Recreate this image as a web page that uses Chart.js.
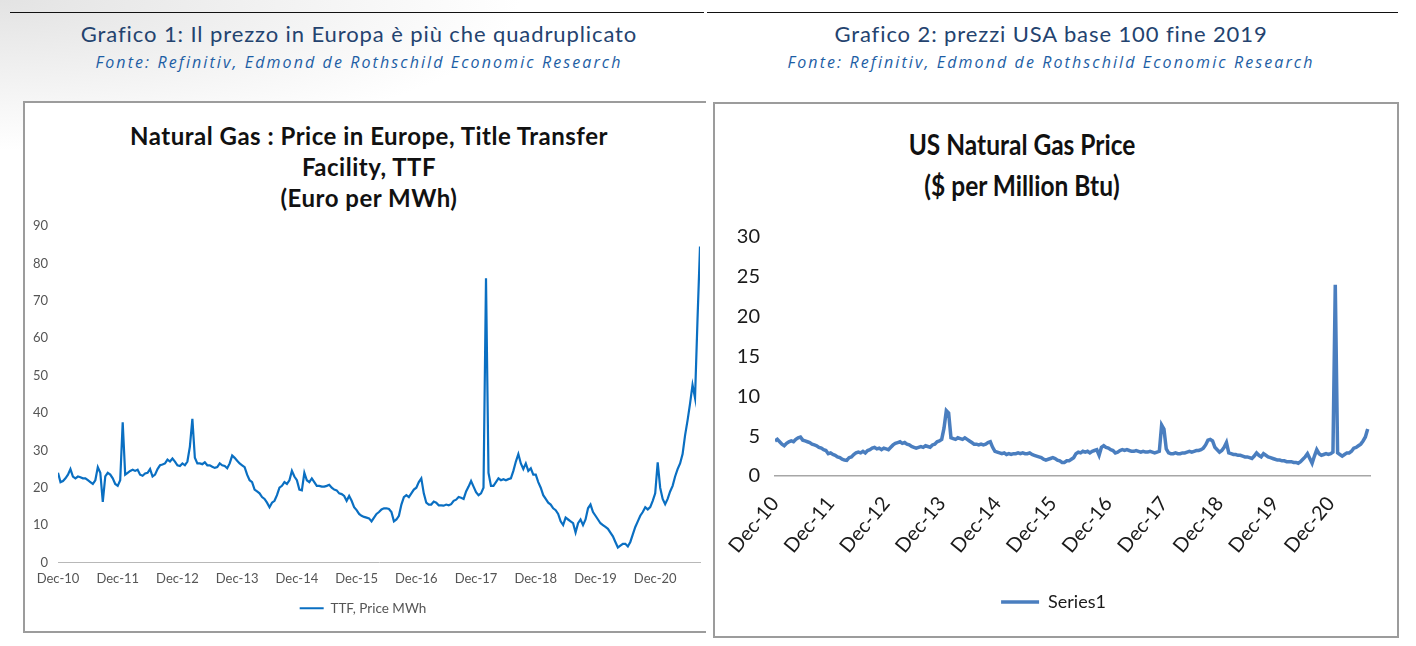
<!DOCTYPE html>
<html lang="it">
<head>
<meta charset="utf-8">
<title>Gas naturale: prezzi in Europa e negli USA</title>
<script src="https://cdn.jsdelivr.net/npm/chart.js"></script>
<style>
    html, body { margin: 0; padding: 0; }
    body {
        width: 1416px; height: 646px; position: relative; overflow: hidden;
        background: radial-gradient(ellipse 520px 150px at 0 0, #e3e3e3, #ffffff);
        font-family: Lato, sans-serif;
    }
    .rule { position: absolute; top: 12px; height: 1px; background: #111; }
    .head { position: absolute; top: 21px; text-align: center; color: #24436f; font-size: 22px; font-weight: 400; letter-spacing: 0.9px; line-height: 26px; white-space: nowrap; }
    .src { position: absolute; top: 52px; text-align: center; color: #1d5ea5; font-family: "Open Sans", sans-serif; font-style: italic; font-size: 16px; letter-spacing: 2.1px; line-height: 20px; white-space: nowrap; }
    .panel { position: absolute; background: #fff; box-sizing: border-box; }
    #p1 { left: 23px; top: 101px; width: 683px; height: 532px; border: 2px solid #9c9c9c; border-right: none; }
    #p2 { left: 713px; top: 102px; width: 686px; height: 536px; border: 2px solid #9c9c9c; }
    .ctitle { position: absolute; text-align: center; font-weight: bold; color: #111; white-space: nowrap; }
    #t1 { left: 24px; width: 690px; top: 120px; font-size: 24px; letter-spacing: 0.5px; line-height: 31px; }
    #t2 { left: 716px; width: 612px; top: 124px; font-size: 28px; line-height: 41px; transform: scaleX(0.875); }
    .wrap { position: absolute; }
    #w1 { left: 26px; top: 205px; width: 678px; height: 425px; }
    #w2 { left: 706px; top: 210px; width: 690px; height: 425px; }
</style>
</head>
<body>
    <div class="rule" style="left:10px; width:694px;"></div>
    <div class="rule" style="left:707px; width:691px;"></div>

    <div class="head" style="left:0; width:718px;">Grafico 1: Il prezzo in Europa è più che quadruplicato</div>
    <div class="src" style="left:0; width:718px;">Fonte: Refinitiv, Edmond de Rothschild Economic Research</div>
    <div class="head" style="left:702px; width:698px;">Grafico 2: prezzi USA base 100 fine 2019</div>
    <div class="src" style="left:702px; width:698px;">Fonte: Refinitiv, Edmond de Rothschild Economic Research</div>

    <div class="panel" id="p1"></div>
    <div class="panel" id="p2"></div>

    <div class="ctitle" id="t1">Natural Gas : Price in Europe, Title Transfer<br>Facility, TTF<br>(Euro per MWh)</div>
    <div class="ctitle" id="t2">US Natural Gas Price<br>($ per Million Btu)</div>

    <div class="wrap" id="w1"><canvas id="ttfChart"></canvas></div>
    <div class="wrap" id="w2"><canvas id="usChart"></canvas></div>

<script>
    // tick positions in half-months since Dec-10, and their labels
    var xTickPos = [0, 24, 48, 72, 96, 120, 144, 168, 192, 216, 240];
    var xTickLabels = ['Dec-10', 'Dec-11', 'Dec-12', 'Dec-13', 'Dec-14', 'Dec-15',
                       'Dec-16', 'Dec-17', 'Dec-18', 'Dec-19', 'Dec-20'];

    // TTF, Euro per MWh, one reading per half month from Dec-10
    var ttfPrice = [
        24, 21.5, 21.8, 22.5, 23.5, 25, 23, 22.5, 23, 22.8, 22.5, 22.5, 22, 21.5, 21, 22, 25.5, 24, 16.2, 23, 24, 23.5, 22.5, 21,
        20.5, 22, 37.5, 23.5, 24, 24.5, 24.8, 24.5, 24.8, 23.5, 23.2, 23.8, 24, 25, 23, 23.5, 25, 26, 26.2, 26.5, 27.5, 27, 27.8, 27,
        26, 25.8, 26.5, 26, 27, 31, 38.4, 28, 26.5, 26.5, 26.3, 26.8, 26, 26, 25.6, 25.3, 25.5, 26.5, 26, 25.8, 25.2, 26.5, 28.6, 28,
        27.2, 26.5, 26, 25.5, 23.5, 22, 21.5, 19.5, 19, 18.5, 17.5, 17, 16, 14.8, 16, 16.5, 18, 20, 20.5, 21.5, 21, 22, 24.5, 23,
        22, 19.5, 19.3, 24, 22, 21.5, 22.5, 21.5, 20.5, 20.5, 20.3, 20.3, 20.5, 20.8, 20, 19.5, 19.3, 18.5, 18.3, 17.8, 16.5, 17.8, 16.5, 14.8,
        14, 13, 12.5, 12.2, 12, 11.8, 11, 12, 13, 13.5, 14.2, 14.5, 14.5, 14.3, 13.5, 11, 11.5, 12.5, 15.5, 17.5, 18, 17.5, 18.5, 19.5,
        20, 21.5, 22.5, 18.5, 16, 15.5, 15.5, 16.3, 16, 15.3, 15.3, 15.2, 15.5, 15.3, 15.6, 16.5, 16.8, 17.5, 17.3, 17, 19, 20.3, 21.8, 20.3,
        18.8, 18, 18.5, 20, 76, 24, 20.5, 20.5, 21.5, 22.5, 22, 22.3, 22, 22.3, 22.5, 24.5, 27, 29, 26.5, 25, 26.5, 24.5, 25.2, 23.5,
        23.5, 21.5, 20, 18, 17, 16, 15.5, 14.5, 14, 13, 11, 10, 12, 11.5, 11, 10.5, 8, 10.5, 11.5, 10, 11.5, 14.5, 15.5, 13.5,
        12.5, 11.5, 10.5, 10, 9.5, 9, 8, 7, 5.5, 4, 4.5, 5, 5, 4.3, 5.5, 7.5, 9.5, 11, 12.5, 13.5, 14.8, 14.2, 14.8, 16.5,
        18.5, 26.8, 20, 17, 15.6, 17, 19, 20.5, 23, 25, 26.5, 29, 34, 38, 42.5, 47.5, 44, 65, 84.5
    ];

    // US natural gas, $ per million Btu, one reading per half month from Dec-10
    var usPrice = [
        4.4, 4.6, 4.3, 4.0, 3.8, 4.1, 4.3, 4.4, 4.3, 4.6, 4.8, 4.9, 4.5, 4.4, 4.3, 4.2, 4.0, 3.9, 3.8, 3.6, 3.5, 3.3, 3.2, 2.8,
        2.9, 2.7, 2.6, 2.4, 2.3, 2.1, 2.0, 1.95, 2.3, 2.4, 2.7, 2.9, 3.0, 2.9, 3.1, 2.9, 3.2, 3.3, 3.5, 3.6, 3.4, 3.5, 3.3, 3.5,
        3.4, 3.3, 3.6, 3.9, 4.1, 4.2, 4.3, 4.1, 4.2, 4.0, 3.9, 3.7, 3.6, 3.5, 3.6, 3.7, 3.6, 3.8, 3.7, 3.6, 3.9, 4.0, 4.3, 4.4,
        4.6, 6.0, 8.2, 7.9, 4.8, 4.7, 4.6, 4.8, 4.7, 4.6, 4.8, 4.6, 4.4, 4.2, 4.0, 4.0, 3.9, 4.0, 3.9, 4.0, 4.2, 4.3, 3.6, 3.1,
        3.0, 2.9, 2.8, 2.9, 2.7, 2.8, 2.7, 2.8, 2.8, 2.9, 2.8, 2.9, 2.8, 2.8, 2.9, 2.7, 2.6, 2.5, 2.4, 2.3, 2.1, 2.0, 2.1, 2.2,
        2.3, 2.2, 2.0, 1.9, 1.7, 1.7, 1.9, 1.9, 2.1, 2.3, 2.8, 3.0, 2.9, 3.1, 3.0, 3.1, 2.9, 3.1, 3.2, 3.3, 2.6, 3.6, 3.8, 3.6,
        3.5, 3.3, 3.2, 2.9, 3.0, 3.2, 3.3, 3.2, 3.3, 3.2, 3.1, 3.1, 3.2, 3.1, 3.0, 3.1, 3.0, 3.0, 3.1, 3.0, 2.9, 3.0, 3.1, 6.4,
        5.9, 3.4, 2.9, 2.8, 2.8, 2.9, 2.8, 2.8, 2.9, 2.9, 3.0, 3.1, 3.0, 3.1, 3.2, 3.2, 3.3, 3.5, 3.9, 4.5, 4.6, 4.4, 3.6, 3.3,
        3.0, 3.2, 3.6, 4.2, 2.9, 2.8, 2.7, 2.7, 2.6, 2.6, 2.5, 2.4, 2.4, 2.3, 2.2, 2.5, 2.9, 2.6, 2.4, 2.8, 2.6, 2.4, 2.3, 2.2,
        2.1, 2.0, 2.0, 1.9, 1.9, 1.8, 1.8, 1.8, 1.7, 1.7, 1.6, 1.8, 2.1, 2.4, 2.8, 2.2, 1.6, 2.5, 3.3, 2.8, 2.6, 2.7, 2.8, 2.7,
        2.8, 3.0, 24.0, 2.9, 2.7, 2.5, 2.7, 2.9, 2.9, 3.1, 3.5, 3.6, 3.8, 4.0, 4.4, 4.9, 5.9
    ];

    function toPoints(values) {
        return values.map(function (v, i) { return { x: i, y: v }; });
    }

    function setTicks(axis) {
        axis.ticks = xTickPos.map(function (v) { return { value: v }; });
    }

    function tickLabel(value) {
        return xTickLabels[xTickPos.indexOf(value)];
    }

    // Grafico 1: TTF
    new Chart(document.getElementById('ttfChart'), {
        type: 'line',
        data: {
            datasets: [{
                label: 'TTF, Price MWh',
                data: toPoints(ttfPrice),
                borderColor: '#0a6fc2',
                backgroundColor: '#0a6fc2',
                borderWidth: 2.2,
                pointRadius: 0,
                tension: 0,
                fill: false
            }]
        },
        options: {
            responsive: true,
            maintainAspectRatio: false,
            animation: false,
            layout: { padding: { left: 0, right: 4, top: 21, bottom: 5 } },
            scales: {
                x: {
                    type: 'linear', min: 0, max: 258,
                    afterBuildTicks: setTicks,
                    afterFit: function (scale) { scale.height = 26; },
                    grid: { display: false, drawTicks: false },
                    border: { color: '#b8b8b8', width: 1 },
                    ticks: { callback: tickLabel, maxRotation: 0, autoSkip: false, padding: 9,
                             color: '#555', font: { family: 'Lato', size: 13 } }
                },
                y: {
                    min: 0, max: 90,
                    afterFit: function (scale) { scale.width = 32; },
                    grid: { display: false, drawTicks: false },
                    border: { display: false },
                    ticks: { stepSize: 10, padding: 10, color: '#555', font: { family: 'Lato', size: 13 } }
                }
            },
            plugins: {
                legend: {
                    position: 'bottom',
                    labels: { usePointStyle: true, pointStyle: 'line', pointStyleWidth: 24, padding: 13,
                              color: '#555', font: { family: 'Lato', size: 13.5 } }
                },
                tooltip: { enabled: false }
            }
        }
    });

    // Grafico 2: USA
    new Chart(document.getElementById('usChart'), {
        type: 'line',
        data: {
            datasets: [{
                label: 'Series1',
                data: toPoints(usPrice),
                borderColor: '#4a7ebf',
                backgroundColor: '#4a7ebf',
                borderWidth: 3.5,
                pointRadius: 0,
                tension: 0,
                fill: false
            }]
        },
        options: {
            responsive: true,
            maintainAspectRatio: false,
            animation: false,
            layout: { padding: { left: 31, right: 26, top: 0, bottom: 14 } },
            scales: {
                x: {
                    type: 'linear', min: 0, max: 257,
                    afterBuildTicks: setTicks,
                    afterFit: function (scale) { scale.height = 105; },
                    grid: { display: false, drawTicks: false },
                    border: { color: '#a6a6a6', width: 1.5 },
                    ticks: { callback: tickLabel, minRotation: 50, maxRotation: 50, autoSkip: false, padding: 16,
                             color: '#1a1a1a', font: { family: 'Lato', size: 20 } }
                },
                y: {
                    min: 0, max: 30,
                    afterFit: function (scale) { scale.width = 38; },
                    grid: { display: false, drawTicks: false },
                    border: { display: false },
                    ticks: { stepSize: 5, padding: 15, color: '#1a1a1a', font: { family: 'Lato', size: 20 } }
                }
            },
            plugins: {
                legend: {
                    position: 'bottom',
                    labels: { usePointStyle: true, pointStyle: 'line', pointStyleWidth: 38, padding: 12,
                              color: '#1a1a1a', font: { family: 'Lato', size: 18 } }
                },
                tooltip: { enabled: false }
            }
        }
    });
</script>
</body>
</html>
